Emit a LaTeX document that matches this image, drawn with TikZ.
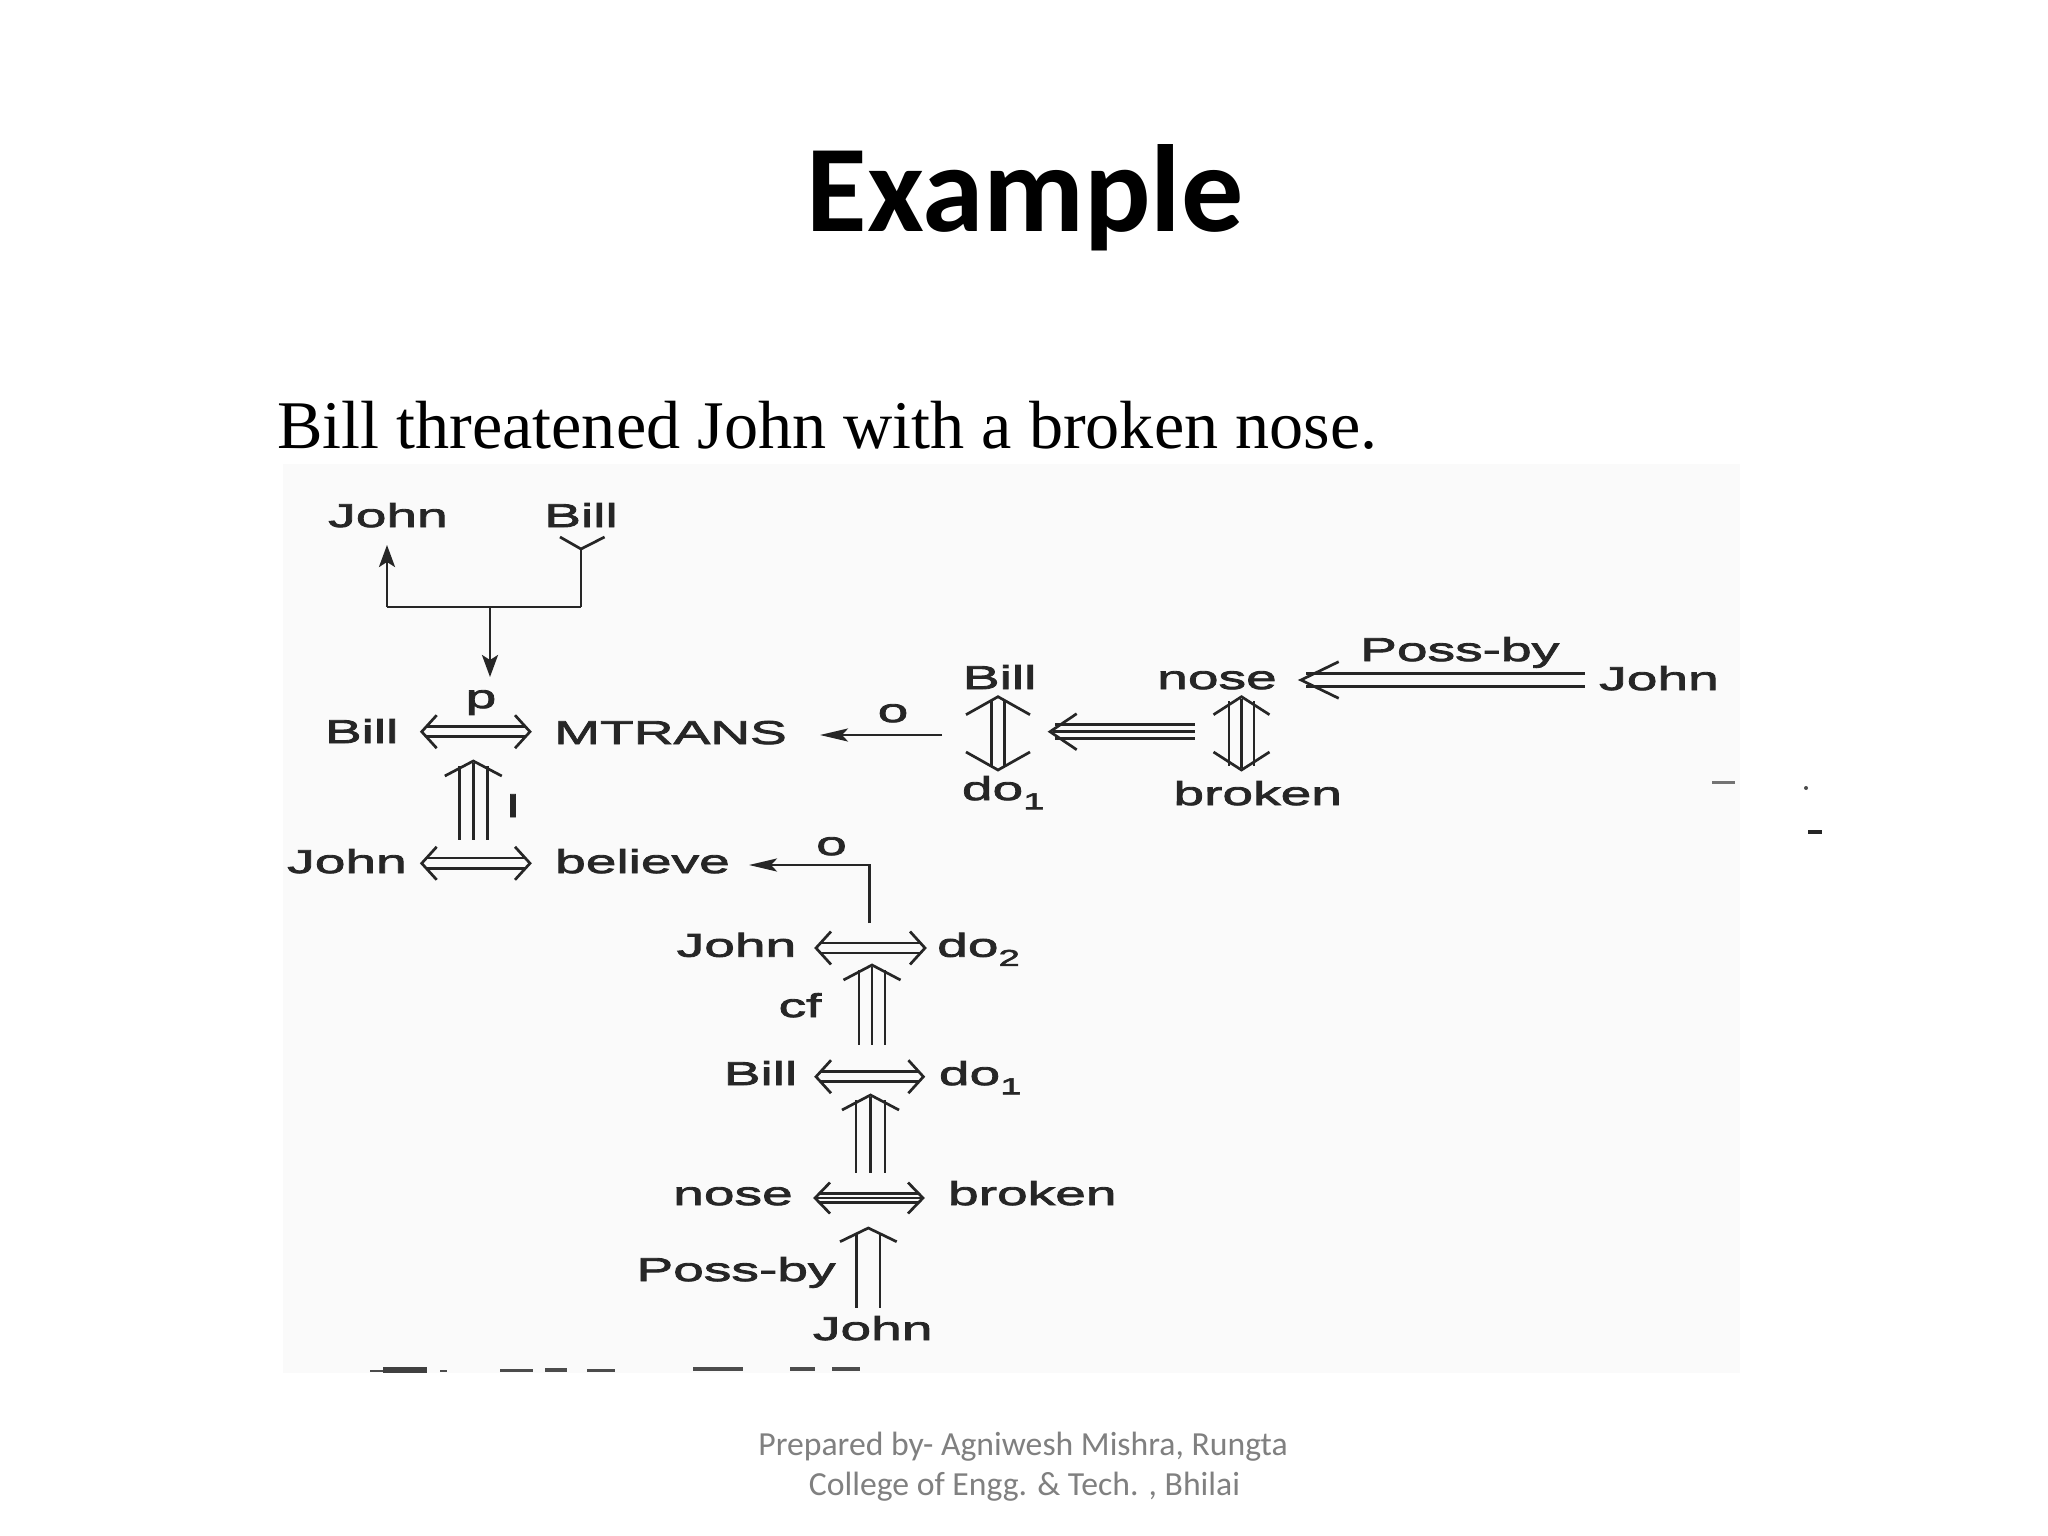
\documentclass[tikz,border=0pt]{standalone}
\usepackage{fontspec}
\usetikzlibrary{arrows.meta}
\newfontfamily\cdf[FakeStretch=1.67,FakeBold=2.5]{Liberation Sans}
\newfontfamily\titlef{Carlito}
\newfontfamily\serf{Liberation Serif}
\newcommand\cdsz{\fontsize{33}{39}\selectfont}
\newcommand\cdsub[1]{\raisebox{-0.28em}{\fontsize{23}{23}\selectfont #1}}
% horizontal double-headed double-line arrow: x1 x2 y halfsep
\newcommand\hdd[4]{%
  \draw[cd] (#1+4,#3-#4) -- (#2-4,#3-#4);
  \draw[cd] (#1+4,#3+#4) -- (#2-4,#3+#4);
  \draw[cd] (#1+15,#3-16.5) -- (#1,#3) -- (#1+15,#3+16.5);
  \draw[cd] (#2-15,#3-16.5) -- (#2,#3) -- (#2-15,#3+16.5);}
% same with three lines
\newcommand\hdt[4]{%
  \draw[cd] (#1+4,#3-#4) -- (#2-4,#3-#4);
  \draw[cd] (#1+2,#3) -- (#2-2,#3);
  \draw[cd] (#1+4,#3+#4) -- (#2-4,#3+#4);
  \draw[cd] (#1+15,#3-15.5) -- (#1,#3) -- (#1+15,#3+15.5);
  \draw[cd] (#2-15,#3-15.5) -- (#2,#3) -- (#2-15,#3+15.5);}
% vertical upward triple arrow: x tip-y bottom-y halfsep
\newcommand\vut[4]{%
  \draw[cd] (#1-#4,#2+5) -- (#1-#4,#3);
  \draw[cd] (#1,#2+2) -- (#1,#3);
  \draw[cd] (#1+#4,#2+5) -- (#1+#4,#3);
  \draw[cd] (#1-28.5,#2+15) -- (#1,#2) -- (#1+28.5,#2+15);}
\begin{document}
\begin{tikzpicture}[x=1pt,y=-1pt,
  cd/.style={draw=black!85, line width=2.7pt, line join=miter, line cap=butt},
  lbl/.style={font=\cdf\cdsz, inner sep=0pt, anchor=base, text=black!85},
  lblw/.style={lbl, anchor=base west},
  tip/.style={-{Stealth[length=22pt,width=16pt,inset=5pt]}},
  ltip/.style={-{Stealth[length=28pt,width=13pt,inset=6pt]}}]
\useasboundingbox (0,0) rectangle (2048,1536);
\fill[white] (0,0) rectangle (2048,1536);
% scanned area
\fill[black!2] (283,464) rectangle (1740,1373);

% titles
\node[font=\titlef\bfseries\fontsize{124}{130}\selectfont, inner sep=0pt, anchor=base] (title) at (1025,231.7) {Example};
\node[font=\serf\fontsize{68.2}{76}\selectfont, inner sep=0pt, anchor=base west] (sent) at (276.8,448.3) {Bill threatened John with a broken nose.};
\node[font=\titlef\fontsize{33.7}{40}\selectfont, text=black!50, inner sep=0pt, anchor=base] (foot1) at (1023,1455) {Prepared by- Agniwesh Mishra, Rungta};
\node[font=\titlef\fontsize{33.7}{40}\selectfont, text=black!50, inner sep=0pt, anchor=base] (foot2) at (1024.5,1495) {College of Engg. \& Tech. , Bhilai};

% ---- top part
\node[lbl] (JohnT) at (388,527) {John};
\node[lbl] (BillT) at (581,527) {Bill};
\coordinate (jn) at (387,607);
\coordinate (bn) at (581,607);
\coordinate (pm) at (490,607);
\draw[cd] (jn) -- (bn);
\draw[cd,tip] (jn) -- (387,545);
\draw[cd] (bn) -- (581,548);
\draw[cd] (560,537) -- (581,549) -- (604.6,537);
\draw[cd,tip] (pm) -- (490,677);

% ---- MTRANS row
\node[lbl] (p) at (481,708) {p};
\node[lbl] (BillL) at (361.7,743) {Bill};
\node[lbl] (MT) at (670.5,744) {MTRANS};
\hdd{421.7}{530}{731.7}{5}
\node[lbl] (o1) at (893,722) {o};
\draw[cd,ltip] (942,735) -- (820,735);

% ---- right group
\node[lbl] (BillR) at (999.6,689) {Bill};
\node[lbl] (noseR) at (1217,689) {nose};
\node[lbl] (PossR) at (1459.7,661) {Poss-by};
\node[lbl] (JohnR) at (1659,690) {John};
\node[lblw] (do1R) at (961.7,800) {do\cdsub{1}};
\node[lbl] (brokenR) at (1257.7,805) {broken};
% Poss-by double arrow
\draw[cd] (1584.6,673.3) -- (1306,673.3);
\draw[cd] (1584.6,686.7) -- (1306,686.7);
\draw[cd] (1338.7,661.7) -- (1301,680) -- (1338.7,698.3);
% Bill vertical double-headed double
\draw[cd] (991.5,701) -- (991.5,766);
\draw[cd] (1004.5,701) -- (1004.5,766);
\draw[cd] (966,714.7) -- (998,696.7) -- (1030,714.7);
\draw[cd] (966,752) -- (998,770) -- (1030,752);
% triple left arrow
\draw[cd] (1055,724.8) -- (1195,724.8);
\draw[cd] (1053,731.7) -- (1195,731.7);
\draw[cd] (1055,738.6) -- (1195,738.6);
\draw[cd] (1076.7,713.7) -- (1050,731.7) -- (1076.7,749.7);
% nose vertical double-headed triple
\draw[cd] (1229,701) -- (1229,766);
\draw[cd] (1241.5,699) -- (1241.5,768);
\draw[cd] (1254,701) -- (1254,766);
\draw[cd] (1213.5,714.7) -- (1241.5,696.7) -- (1269.5,714.7);
\draw[cd] (1213.5,752) -- (1241.5,770) -- (1269.5,752);

% ---- instrument link
\vut{473.3}{761}{840}{14}
\node[lbl] (I) at (513,817) {I};

% ---- believe row
\node[lbl] (JohnB) at (347,873) {John};
\node[lbl] (bel) at (642.5,873) {believe};
\hdd{421.7}{530}{863.3}{5.3}
\node[lbl] (o2) at (831.5,855) {o};
\coordinate (corner) at (869.4,865);
\draw[cd,ltip] (869.4,923) -- (corner) -- (749,865);

% ---- do2 row
\node[lbl] (JohnD) at (736.5,956.7) {John};
\node[lblw] (do2) at (937,956.7) {do\cdsub{2}};
\hdd{816}{925}{948}{5}
\vut{872}{965}{1045}{13}
\node[lbl] (cf) at (800,1017) {cf};

% ---- do1 row
\node[lbl] (BillD) at (760.5,1085) {Bill};
\node[lblw] (do1D) at (938.7,1085) {do\cdsub{1}};
\hdd{816}{923.4}{1076.7}{5}
\vut{870.5}{1095}{1173}{14.5}

% ---- broken row
\node[lbl] (noseB) at (733,1205) {nose};
\node[lbl] (brokenB) at (1032.3,1205) {broken};
\hdt{815}{923}{1198}{4.8}
\draw[cd] (856.7,1233) -- (856.7,1308);
\draw[cd] (880,1233) -- (880,1308);
\draw[cd] (840,1241.7) -- (868.3,1228) -- (896.7,1241.7);
\node[lbl] (PossB) at (736,1281) {Poss-by};
\node[lbl] (JohnBot) at (872.7,1340) {John};

% ---- cut-off caption remnants and specks
\fill[black!70] (370,1369.5) rectangle (383,1372);
\fill[black!75] (383,1367) rectangle (427,1372.5);
\fill[black!70] (440,1369.5) rectangle (447,1372);
\fill[black!70] (500,1368.5) rectangle (533,1372);
\fill[black!70] (545,1367.5) rectangle (567,1372);
\fill[black!70] (587,1369) rectangle (615,1372);
\fill[black!70] (693,1367) rectangle (743,1370.5);
\fill[black!70] (790,1367) rectangle (815,1370.5);
\fill[black!70] (832,1367) rectangle (860,1370.5);
\fill[black!55] (1712,781) rectangle (1735,783.5);
\fill[black!70] (1806,788) circle (2);
\fill[black!85] (1808,830) rectangle (1822,834);
\end{tikzpicture}
\end{document}
